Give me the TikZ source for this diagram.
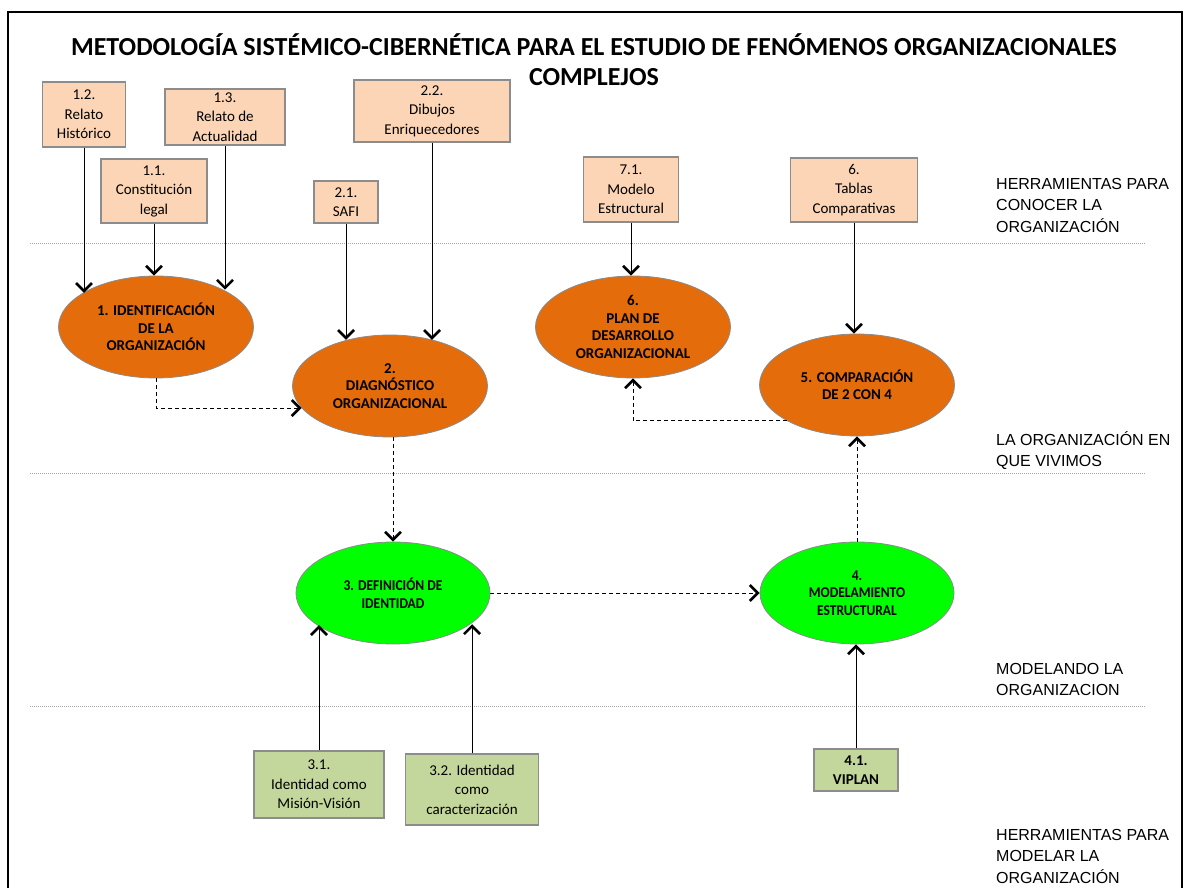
\documentclass[tikz,border=0pt]{standalone}
\usepackage{fontspec}
\setmainfont{Carlito}
\newfontfamily\arialfont{Liberation Sans}
\usetikzlibrary{shapes.geometric,arrows.meta}

\definecolor{peach}{HTML}{FBD5B5}
\definecolor{orng}{HTML}{E46C0A}
\definecolor{brightgreen}{HTML}{00FF00}
\definecolor{olivebox}{HTML}{C3D69B}
\definecolor{edgegray}{HTML}{8C8C8C}

\newcommand\narrowtxt[1]{\scalebox{0.9}[1]{#1}}

\tikzset{
  toolbox/.style={draw=edgegray, line width=1.2pt, fill=peach, align=center,
    inner sep=0pt, font=\fontsize{15}{19.5}\selectfont},
  modelbox/.style={toolbox, fill=olivebox},
  stage/.style={ellipse, draw=edgegray, line width=0.8pt, fill=orng, align=center,
    inner sep=0pt, minimum width=195pt, minimum height=102pt,
    font=\fontsize{15}{17.5}\selectfont\bfseries},
  gstage/.style={stage, fill=brightgreen, minimum width=194pt},
  feed/.style={line width=1pt, -{Straight Barb[length=8pt,width=16pt,line width=2.6pt]}},
  flow/.style={line width=1pt, dash pattern=on 4pt off 3pt,
    -{Straight Barb[length=8pt,width=16pt,line width=2.6pt]}},
  layer/.style={draw=gray!70, line width=0.7pt, dash pattern=on 1pt off 1pt},
  zonelbl/.style={anchor=north west, align=left, inner sep=0pt,
    font=\arialfont\fontsize{16}{21.5}\selectfont},
}

\begin{document}
\begin{tikzpicture}[x=1pt,y=-1pt]
\useasboundingbox (0,0) rectangle (1189,888);

% outer frame (runs past the lower edge)
\draw[line width=2pt] (8,12) rectangle (1182,905);

% title
\node[align=center, font=\fontsize{26}{30}\selectfont\bfseries] (title) at (594,60)
  {METODOLOGÍA SISTÉMICO-CIBERNÉTICA PARA EL ESTUDIO DE FENÓMENOS ORGANIZACIONALES\\COMPLEJOS};

% layer separators
\draw[layer] (30,243) -- (1145,243);
\draw[layer] (30,473) -- (1145,473);
\draw[layer] (30,706) -- (1145,706);

% layer names
\node[zonelbl] (z1) at (996,178) {HERRAMIENTAS PARA\\CONOCER LA\\ORGANIZACIÓN};
\node[zonelbl] (z2) at (996,431) {LA ORGANIZACIÓN EN\\QUE VIVIMOS};
\node[zonelbl] (z3) at (996,663) {MODELANDO LA\\ORGANIZACION};
\node[zonelbl] (z4) at (996,829) {HERRAMIENTAS PARA\\MODELAR LA\\ORGANIZACIÓN};

% stages
\node[stage] (e1) at (156,327) {1. IDENTIFICACIÓN\\DE LA\\ORGANIZACIÓN};
\node[stage] (e2) at (390,386) {2.\\DIAGNÓSTICO\\ORGANIZACIONAL};
\node[stage] (e6) at (633,327) {6.\\PLAN DE\\DESARROLLO\\ORGANIZACIONAL};
\node[stage] (e5) at (857,385) {5. COMPARACIÓN\\DE 2 CON 4};
\node[gstage] (e3) at (393,593) {\narrowtxt{3. DEFINICIÓN DE}\\\narrowtxt{IDENTIDAD}};
\node[gstage] (e4) at (857,593) {\narrowtxt{4.}\\\narrowtxt{MODELAMIENTO}\\\narrowtxt{ESTRUCTURAL}};

% tools for knowing the organization
\node[toolbox, minimum width=83pt, minimum height=65pt] (b12) at (84,114.5) {1.2.\\Relato\\Histórico};
\node[toolbox, minimum width=120pt, minimum height=56pt] (b13) at (225,117) {1.3.\\Relato de\\Actualidad};
\node[toolbox, minimum width=106pt, minimum height=64pt] (b11) at (154,191) {1.1.\\Constitución\\legal};
\node[toolbox, minimum width=156pt, minimum height=62pt] (b22) at (432,111) {2.2.\\Dibujos\\Enriquecedores};
\node[toolbox, minimum width=64pt, minimum height=42pt] (b21) at (346,202) {2.1.\\SAFI};
\node[toolbox, minimum width=95pt, minimum height=65pt] (b71) at (631,189.5) {7.1.\\Modelo\\Estructural};
\node[toolbox, minimum width=127pt, minimum height=64pt] (b6) at (854,190) {6.\\Tablas\\Comparativas};

% tools for modelling the organization
\node[modelbox, minimum width=130pt, minimum height=67pt] (b31) at (319,784.5) {3.1.\\Identidad como\\Misión-Visión};
\node[modelbox, minimum width=133pt, minimum height=71pt] (b32) at (472,789.5) {3.2. Identidad\\como\\caracterización};
\node[modelbox, minimum width=84pt, minimum height=42pt, font=\fontsize{15}{19.5}\selectfont\bfseries] (b41) at (856,770) {4.1.\\VIPLAN};

% tool inputs
\draw[feed] (b12.south) -- (b12.south |- e1.155);
\draw[feed] (b11.south) -- (b11.south |- e1.north);
\draw[feed] (b13.south) -- (b13.south |- e1.29);
\draw[feed] (b21.south) -- (b21.south |- e2.133);
\draw[feed] (b22.south) -- (b22.south |- e2.47.5);
\draw[feed] (b71.south) -- (b71.south |- e6.north);
\draw[feed] (b6.south) -- (b6.south |- e5.north);
\draw[feed] (b31.north) -- (b31.north |- e3.203.5);
\draw[feed] (b32.north) -- (b32.north |- e3.338);
\draw[feed] (b41.north) -- (b41.north |- e4.south);

% process flow
\draw[flow] (e1.south) |- (e2.194.8);
\draw[flow] (e3.north |- e2.south) -- (e3.north);
\draw[flow] (e3.east) -- (e4.west);
\draw[flow] (e4.north) -- (e5.south);
\draw[flow] (e5.207.6) -| (e6.south);
\end{tikzpicture}
\end{document}
